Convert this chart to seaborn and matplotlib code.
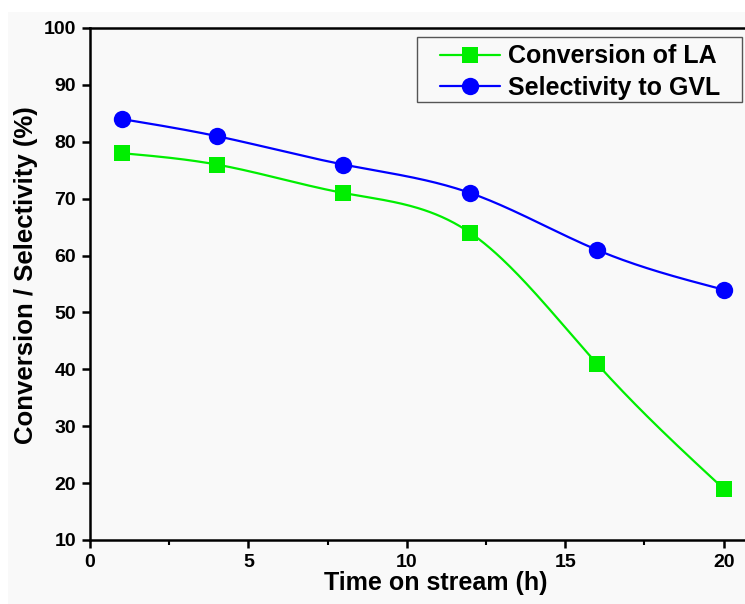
import numpy as np
import pandas as pd
import matplotlib
matplotlib.use("Agg")
import matplotlib.pyplot as plt
from matplotlib.lines import Line2D
from matplotlib.patches import Rectangle
from matplotlib.ticker import MultipleLocator
import seaborn as sns

time_h = [1, 4, 8, 12, 16, 20]
conversion_la = [78, 76, 71, 64, 41, 19]
selectivity_gvl = [84, 81, 76, 71, 61, 54]
series_names = ["Conversion of LA", "Selectivity to GVL"]
series_colors = ["#00ee00", "#0000ff"]
series_markers = ["s", "o"]


def natural_spline(x, y, n=300):
	# smooth connecting curve through the measured points
	x = np.asarray(x, float)
	y = np.asarray(y, float)
	k = len(x)
	h = np.diff(x)
	A = np.zeros((k, k))
	b = np.zeros(k)
	A[0, 0] = A[-1, -1] = 1
	for i in range(1, k - 1):
		A[i, i - 1] = h[i - 1]
		A[i, i] = 2 * (h[i - 1] + h[i])
		A[i, i + 1] = h[i]
		b[i] = 6 * ((y[i + 1] - y[i]) / h[i] - (y[i] - y[i - 1]) / h[i - 1])
	M = np.linalg.solve(A, b)
	xs = np.linspace(x[0], x[-1], n)
	idx = np.clip(np.searchsorted(x, xs) - 1, 0, k - 2)
	x0, x1 = x[idx], x[idx + 1]
	hh = x1 - x0
	t0 = x1 - xs
	t1 = xs - x0
	ys = (M[idx] * t0**3 + M[idx + 1] * t1**3) / (6 * hh) \
		+ (y[idx] / hh - M[idx] * hh / 6) * t0 \
		+ (y[idx + 1] / hh - M[idx + 1] * hh / 6) * t1
	return xs, ys


sns.set_style("ticks")
plt.rcParams['font.family'] = ['Liberation Sans', 'DejaVu Sans']
plt.rcParams['font.weight'] = 'bold'
for key in ['text.color', 'axes.labelcolor', 'xtick.color', 'ytick.color']:
	plt.rcParams[key] = 'black'

W, H = 745, 604
fig = plt.figure(figsize=(W / 100, H / 100), dpi=100)
fig.patches.append(Rectangle((8 / W, 0), 1, (H - 12) / H, transform=fig.transFigure,
	facecolor="#f9f9f9", edgecolor="none", zorder=-10))
ax = fig.add_axes([90 / W, 64 / H, 1 - 90 / W + 0.002, (540 - 28) / H])
ax.set_facecolor("#f9f9f9")

df = pd.DataFrame({"time": time_h * 2,
	"value": conversion_la + selectivity_gvl,
	"series": [series_names[0]] * 6 + [series_names[1]] * 6})

handles = []
for name, col, mk, vals in zip(series_names, series_colors, series_markers, [conversion_la, selectivity_gvl]):
	xs, ys = natural_spline(time_h, vals)
	sns.lineplot(x=xs, y=ys, color=col, lw=1.6, ax=ax, legend=False)
	sub = df[df.series == name]
	ms = 11.5 if mk == "s" else 12.5
	sns.lineplot(data=sub, x="time", y="value", color=col, marker=mk, markersize=ms,
		markeredgewidth=0, linestyle="none", ax=ax, legend=False, zorder=3)
	handles.append(Line2D([], [], color=col, lw=1.6, marker=mk, markersize=ms, markeredgewidth=0))

ax.set_xlim(0, 20.72)
ax.set_ylim(10, 100)
ax.xaxis.set_major_locator(MultipleLocator(5))
ax.xaxis.set_minor_locator(MultipleLocator(2.5))
ax.yaxis.set_major_locator(MultipleLocator(10))

for s in ["left", "bottom", "top"]:
	ax.spines[s].set_linewidth(1.8)
	ax.spines[s].set_color("black")
ax.spines["right"].set_visible(False)
ax.tick_params(axis="both", which="major", direction="out", length=6, width=1.8, labelsize=14, pad=4,
	colors="black")
ax.tick_params(axis="x", which="minor", direction="out", length=3.5, width=1.5, colors="black")
ax.tick_params(top=False, right=False)
for lab in ax.get_xticklabels() + ax.get_yticklabels():
	lab.set_fontweight("bold")

ax.set_xlabel("Time on stream (h)", fontsize=18, fontweight="bold", labelpad=0, x=0.526)
ax.set_ylabel("Conversion / Selectivity (%)", fontsize=18.5, fontweight="bold", labelpad=4, y=0.518)

# legend box drawn separately so that side padding can be wider than top/bottom
ax.add_patch(Rectangle((417 / W, (H - 102) / H), 325 / W, 65 / H, transform=fig.transFigure,
	facecolor="#f9f9f9", edgecolor="#555555", linewidth=1.0, zorder=4, clip_on=False))
leg = ax.legend(handles, series_names, loc="upper left", bbox_to_anchor=(434 / W, (H - 38) / H),
	bbox_transform=fig.transFigure, frameon=False, handlelength=2.4, handletextpad=0.3,
	borderaxespad=0, borderpad=0.25, labelspacing=0.3, prop={"weight": "bold", "size": 18})
leg.set_zorder(5)
for t in leg.get_texts():
	t.set_color("black")

fig.savefig("out.png", dpi=100)
